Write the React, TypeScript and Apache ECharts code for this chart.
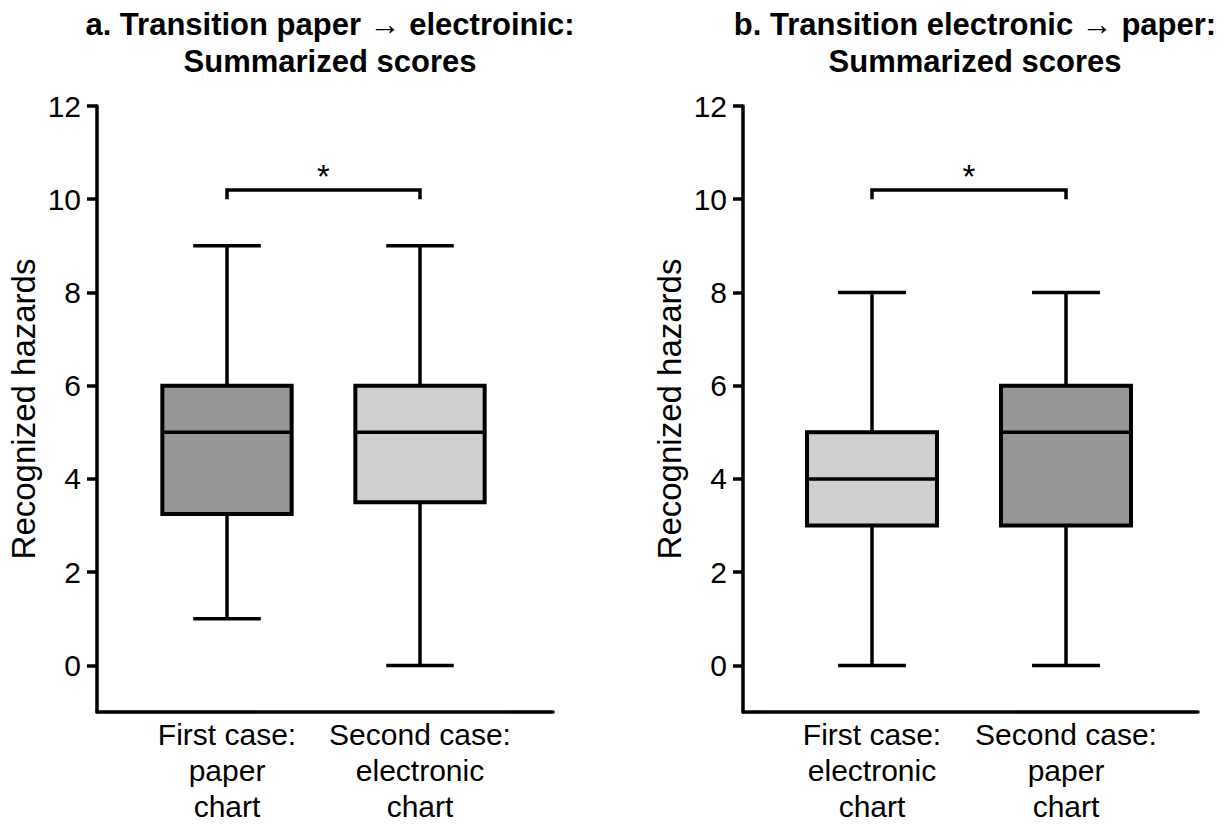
import React, { useEffect, useRef } from "react";
import * as echarts from "echarts";

const FONT = "'Liberation Sans', Arial, Helvetica, sans-serif";

const titleA = "a. Transition paper \u2192 electroinic:\nSummarized scores";
const titleB = "b. Transition electronic \u2192 paper:\nSummarized scores";
const yName = "Recognized hazards";

const categoriesA = ["First case:\npaper\nchart", "Second case:\nelectronic\nchart"];
const categoriesB = ["First case:\nelectronic\nchart", "Second case:\npaper\nchart"];

// [category index, min, Q1, median, Q3, max]
const boxesA = [
  [0, 1, 3.25, 5, 6, 9],
  [1, 0, 3.5, 5, 6, 9],
];
const boxesB = [
  [0, 0, 3, 4, 5, 8],
  [1, 0, 3, 5, 6, 8],
];

// significance brackets: [from category, to category, base value, top value]
const bracketA = [[0, 1, 10, 10.2]];
const bracketB = [[0, 1, 10, 10.2]];
const sigLabel = "*";

const yTicks = [0, 2, 4, 6, 8, 10, 12];

const fillsA = ["#969696", "#cfcfcf"];
const fillsB = ["#cfcfcf", "#969696"];

const Y_MIN = -1;
const Y_MAX = 12;

function boxRenderer(fills: string[]) {
  return (params: any, api: any) => {
    const x = api.value(0);
    const mn = api.value(1);
    const q1 = api.value(2);
    const md = api.value(3);
    const q3 = api.value(4);
    const mx = api.value(5);
    const band = api.size([1, 0])[0];
    const half = band * 0.335;
    const cap = band * 0.175;
    const pMin = api.coord([x, mn]);
    const pQ1 = api.coord([x, q1]);
    const pMd = api.coord([x, md]);
    const pQ3 = api.coord([x, q3]);
    const pMax = api.coord([x, mx]);
    const cx = pMin[0];
    const lineStyle = { stroke: "#000", lineWidth: 3.5, fill: null };
    return {
      type: "group",
      children: [
        { type: "line", shape: { x1: cx, y1: pMin[1], x2: cx, y2: pQ1[1] }, style: lineStyle },
        { type: "line", shape: { x1: cx - cap, y1: pMin[1], x2: cx + cap, y2: pMin[1] }, style: lineStyle },
        { type: "line", shape: { x1: cx, y1: pQ3[1], x2: cx, y2: pMax[1] }, style: lineStyle },
        { type: "line", shape: { x1: cx - cap, y1: pMax[1], x2: cx + cap, y2: pMax[1] }, style: lineStyle },
        {
          type: "rect",
          shape: { x: cx - half, y: pQ3[1], width: half * 2, height: pQ1[1] - pQ3[1] },
          style: { fill: fills[params.dataIndex], stroke: "#000", lineWidth: 4 },
        },
        { type: "line", shape: { x1: cx - half, y1: pMd[1], x2: cx + half, y2: pMd[1] }, style: lineStyle },
      ],
    };
  };
}

function bracketRenderer(params: any, api: any) {
  const a = api.value(0);
  const b = api.value(1);
  const base = api.value(2);
  const top = api.value(3);
  const p1 = api.coord([a, base]);
  const p2 = api.coord([a, top]);
  const p3 = api.coord([b, top]);
  const p4 = api.coord([b, base]);
  return {
    type: "group",
    children: [
      {
        type: "polyline",
        shape: { points: [p1, p2, p3, p4] },
        style: { stroke: "#000", lineWidth: 3.5, fill: null },
      },
      {
        type: "text",
        style: {
          text: sigLabel,
          x: (p2[0] + p3[0]) / 2,
          y: p2[1] - 13,
          align: "center",
          verticalAlign: "middle",
          fontSize: 33,
          fontFamily: FONT,
          fill: "#000",
        },
      },
    ],
  };
}

export default function App() {
  const ref = useRef<HTMLDivElement>(null);
  useEffect(() => {
    document.body.style.margin = "0";
    const chart = echarts.init(ref.current!, null, { renderer: "svg" });

    const panels = [
      { wideLeft: 97, wideWidth: 456, narrowLeft: 130.5, narrowWidth: 386 },
      { wideLeft: 743, wideWidth: 455, narrowLeft: 775, narrowWidth: 388 },
    ];
    const top = 106;
    const height = 606;

    const grid: any[] = [];
    const xAxis: any[] = [];
    const yAxis: any[] = [];
    const cats = [categoriesA, categoriesB];
    panels.forEach((p, i) => {
      grid.push({ left: p.wideLeft, top, width: p.wideWidth, height, containLabel: false, outerBoundsMode: "none" });
      xAxis.push({
        type: "value",
        gridIndex: i * 2,
        min: 0,
        max: 1,
        axisLine: { show: true, onZero: false, lineStyle: { color: "#000", width: 3.5 } },
        axisTick: { show: false },
        axisLabel: { show: false },
        splitLine: { show: false },
      });
      yAxis.push({
        type: "value",
        gridIndex: i * 2,
        min: Y_MIN,
        max: Y_MAX,
        name: yName,
        nameLocation: "middle",
        nameGap: 57,
        nameMoveOverlap: false,
        nameTextStyle: { fontSize: 33, fontFamily: FONT, color: "#000" },
        axisLine: { show: true, onZero: false, lineStyle: { color: "#000", width: 3.5 } },
        axisTick: { show: true, length: 10, customValues: yTicks, lineStyle: { color: "#000", width: 3.5 } },
        axisLabel: { customValues: yTicks, fontSize: 30, fontFamily: FONT, color: "#000", margin: 16 },
        splitLine: { show: false },
      });
      grid.push({ left: p.narrowLeft, top, width: p.narrowWidth, height, containLabel: false, outerBoundsMode: "none" });
      xAxis.push({
        type: "category",
        gridIndex: i * 2 + 1,
        data: cats[i],
        axisLine: { show: false },
        axisTick: { show: false },
        axisLabel: {
          interval: 0,
          fontSize: 30,
          lineHeight: 36,
          fontFamily: FONT,
          color: "#000",
          margin: 4,
          align: "center",
        },
        splitLine: { show: false },
      });
      yAxis.push({
        type: "value",
        gridIndex: i * 2 + 1,
        min: Y_MIN,
        max: Y_MAX,
        show: false,
        splitLine: { show: false },
      });
    });

    const titleStyle = { fontSize: 31, fontWeight: "bold", fontFamily: FONT, color: "#000", lineHeight: 37 };

    chart.setOption({
      animation: false,
      backgroundColor: "#fff",
      title: [
        { text: titleA, left: 325, top: 1, textAlign: "center", textStyle: titleStyle },
        { text: titleB, left: 970, top: 1, textAlign: "center", textStyle: titleStyle },
      ],
      grid,
      xAxis,
      yAxis,
      series: [
        { type: "custom", xAxisIndex: 1, yAxisIndex: 1, data: boxesA, renderItem: boxRenderer(fillsA), silent: true },
        { type: "custom", xAxisIndex: 1, yAxisIndex: 1, data: bracketA, renderItem: bracketRenderer, silent: true },
        { type: "custom", xAxisIndex: 3, yAxisIndex: 3, data: boxesB, renderItem: boxRenderer(fillsB), silent: true },
        { type: "custom", xAxisIndex: 3, yAxisIndex: 3, data: bracketB, renderItem: bracketRenderer, silent: true },
      ],
    });
    return () => chart.dispose();
  }, []);
  return <div ref={ref} style={{ width: 1225, height: 825 }} />;
}
